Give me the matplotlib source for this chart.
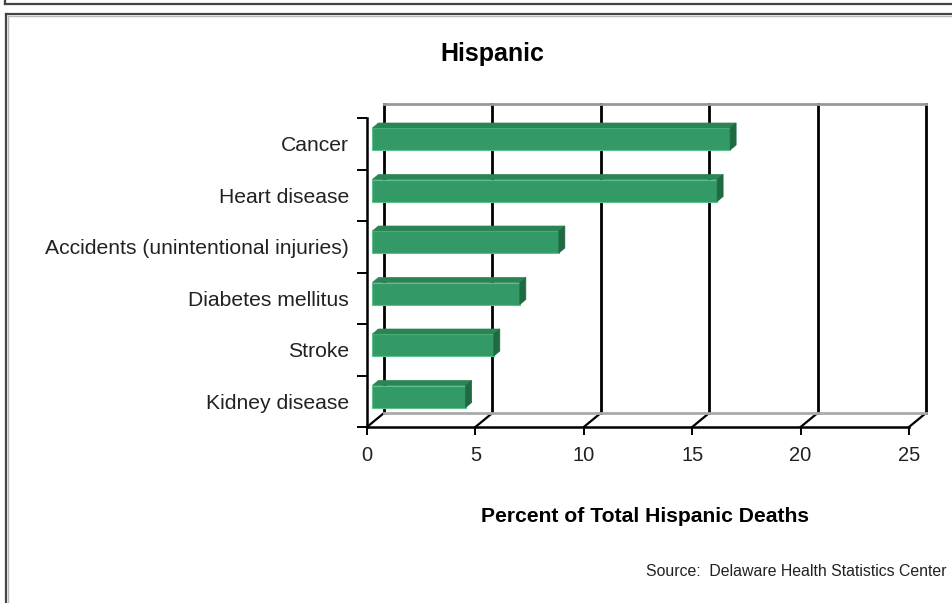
import numpy as np
import matplotlib
matplotlib.use('Agg')
import matplotlib.pyplot as plt
from matplotlib.patches import Polygon
from matplotlib.lines import Line2D

# DATA
causes = ['Cancer', 'Heart disease', 'Accidents (unintentional injuries)',
          'Diabetes mellitus', 'Stroke', 'Kidney disease']
pct = [16.5, 15.9, 8.6, 6.8, 5.6, 4.3]
xticks = [0, 5, 10, 15, 20, 25]
title = 'Hispanic'
xlabel = 'Percent of Total Hispanic Deaths'
source = 'Source:  Delaware Health Statistics Center'

plt.rcParams['font.family'] = ['Liberation Sans', 'DejaVu Sans']

W, H = 952, 603
fig = plt.figure(figsize=(W/100, H/100), dpi=100)

# outer frames (figure pixels)
bg = fig.add_axes([0, 0, 1, 1]); bg.set_xlim(0, W); bg.set_ylim(H, 0); bg.axis('off')
bg.add_line(Line2D([5, W], [4, 4], color='#444444', lw=1.6))
bg.add_line(Line2D([5, 5], [0, 4], color='#444444', lw=1.6))
bg.add_line(Line2D([6, W], [14, 14], color='#444444', lw=1.6))
bg.add_line(Line2D([6, 6], [14, H], color='#444444', lw=1.6))
bg.add_line(Line2D([7.5, W], [15.5, 15.5], color='#bbbbbb', lw=1))
bg.add_line(Line2D([7.5, 7.5], [15.5, H], color='#bbbbbb', lw=1))

x0, x1, ytop, ybot = 367, 909, 118, 427
ax = fig.add_axes([x0/W, 1-ybot/H, (x1-x0)/W, (ybot-ytop)/H])
ax.set_xlim(0, 25)
ax.set_ylim(-0.5, 5.5)
ax.patch.set_alpha(0)

pxx = 25/(x1-x0)          # data units per pixel
pxy = 6/(ybot-ytop)
dx, dy = 17*pxx, 14*pxy   # depth of the box
top = 5.5 + dy

# back wall + floor
for v in xticks:
    ax.plot([v+dx, v+dx], [-0.5+dy, top], color='black', lw=2, clip_on=False, zorder=1)
    ax.plot([v, v+dx], [-0.5, -0.5+dy], color='black', lw=1.6, clip_on=False, zorder=1)
ax.plot([dx, 25+dx], [top, top], color='#999999', lw=2, clip_on=False, zorder=1)
ax.plot([dx, 25+dx], [-0.5+dy, -0.5+dy], color='#aaaaaa', lw=2, clip_on=False, zorder=1)

# bars (middle depth)
ypos = np.arange(len(causes))[::-1]
bh = 22*pxy
bx, by = 5.4*pxx, 4.75*pxy
sx, sy = 6*pxx, 5*pxy
ax.barh(ypos+by, pct, left=bx, height=bh, color='#339966', edgecolor='#5cc08a',
        lw=0.8, zorder=3, clip_on=False)
for y, v in zip(ypos, pct):
    yt = y + by + bh/2
    yb = y + by - bh/2
    ax.add_patch(Polygon([[bx, yt], [bx+v, yt], [bx+v+sx, yt+sy], [bx+sx, yt+sy]],
                         closed=True, fc='#2b8456', ec='#2b8456', lw=0.5, zorder=3, clip_on=False))
    ax.add_patch(Polygon([[bx+v, yb], [bx+v, yt], [bx+v+sx, yt+sy], [bx+v+sx, yb+sy]],
                         closed=True, fc='#1f6a43', ec='#1f6a43', lw=0.5, zorder=3, clip_on=False))

# axes
for s in ['top', 'right']:
    ax.spines[s].set_visible(False)
for s in ['left', 'bottom']:
    ax.spines[s].set_linewidth(1.8)
    ax.spines[s].set_zorder(4)
ax.set_xticks(xticks)
ax.set_xticklabels([str(v) for v in xticks], fontsize=14.5, color='#222222')
ax.tick_params(axis='x', length=6, width=1.4, pad=8)
ax.set_yticks(ypos)
ax.set_yticklabels(causes, fontsize=15.2, color='#222222')
ax.tick_params(axis='y', length=0, pad=13)
ax.set_yticks(np.arange(-0.5, 6, 1), minor=True)
ax.tick_params(axis='y', which='minor', length=7, width=1.4)

fig.text(492/W, 1-54/H, title, ha='center', va='center', fontsize=18, fontweight='bold')
fig.text(645/W, 1-516/H, xlabel, ha='center', va='center', fontsize=15.2, fontweight='bold')
fig.text(646/W, 1-572/H, source, ha='left', va='center', fontsize=11.4, color='#222222')

fig.savefig('out.png', dpi=100)
